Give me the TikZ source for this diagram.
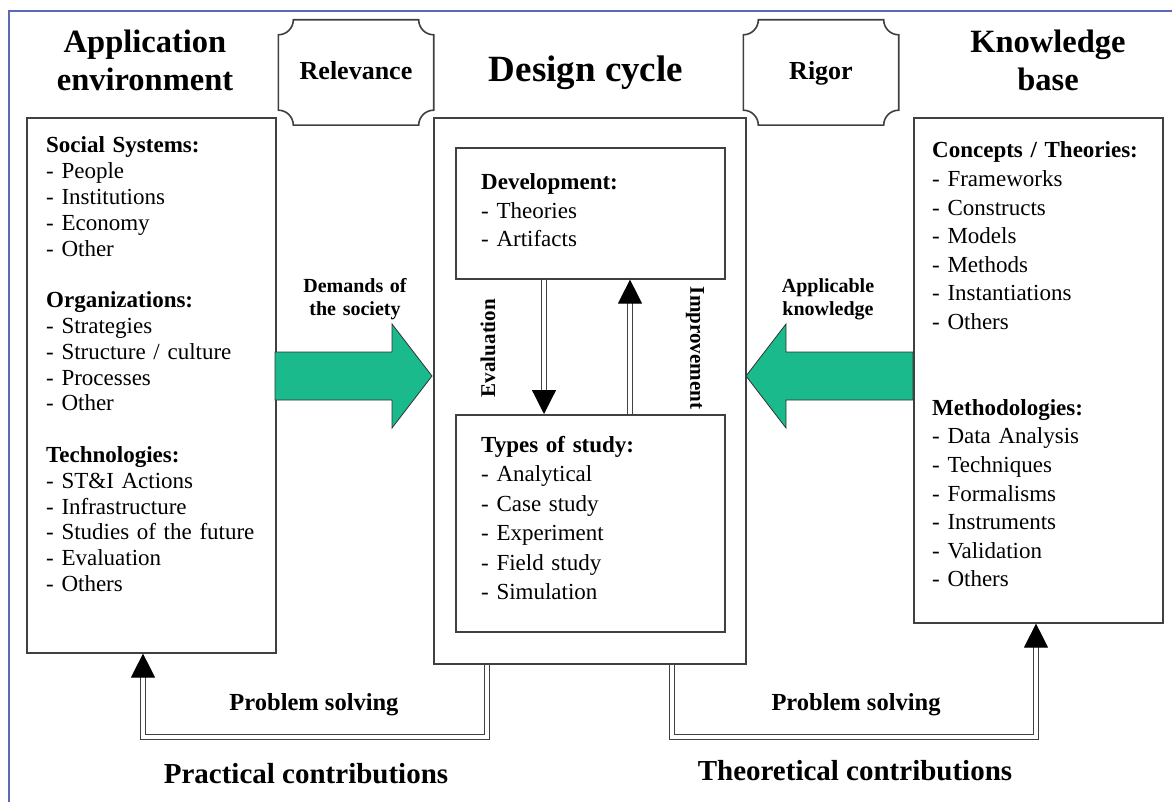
\documentclass[tikz,border=0pt]{standalone}
\usepackage{fontspec}
\setmainfont{Liberation Serif}
\usetikzlibrary{arrows.meta,calc}
\definecolor{frameblue}{RGB}{92,104,184}
\definecolor{arrowgreen}{RGB}{26,186,140}
\definecolor{linegray}{RGB}{64,64,64}
\tikzset{
  box/.style={draw=linegray, line width=1.6pt, inner sep=0pt, anchor=north west},
  listtext/.style={anchor=base west, inner sep=0pt, align=left, text width=#1},
  dbl/.style={draw=linegray, double=white, double distance=3.4pt, line width=1.2pt, line join=miter},
  tipend/.style={-{Triangle[length=24pt,width=24pt,color=black]}},
  body/.style={font=\fontsize{23}{#1}\selectfont},
  ttl/.style={font=\bfseries\fontsize{32.5}{38}\selectfont, align=center, text width=270pt, anchor=base, inner sep=0pt},
  greenarrow/.style={fill=arrowgreen, draw=black!80, line width=0.8pt, line join=miter},
  plaquebox/.style={minimum width=155pt, minimum height=105pt, inner sep=0pt},
  lbl/.style={font=\bfseries\fontsize{20}{24}\selectfont, inner sep=0pt},
}
\newcommand\drawplaque[1]{%
  \draw[draw=linegray, line width=1.6pt]
    ($(#1.north west)+(15,0)$) -- ($(#1.north east)+(-15,0)$)
    arc[start angle=180, end angle=90, radius=15]
    -- ($(#1.south east)+(0,-15)$)
    arc[start angle=270, end angle=180, radius=15]
    -- ($(#1.south west)+(15,0)$)
    arc[start angle=0, end angle=-90, radius=15]
    -- ($(#1.north west)+(0,15)$)
    arc[start angle=90, end angle=0, radius=15]
    -- cycle;}
\begin{document}
\begin{tikzpicture}[x=1pt,y=-1pt]
\useasboundingbox (0,0) rectangle (1172,802);
\fill[white] (0,0) rectangle (1172,802);
% outer frame
\draw[frameblue, line width=1.5pt] (9,802) -- (9,11) -- (1172,11);

% titles
\node[ttl] (apptitle) at (145,53) {Application\\environment};
\node[ttl] (kbtitle) at (1048,53) {Knowledge\\base};
\node[font=\bfseries\fontsize{37}{42}\selectfont, anchor=base, inner sep=0pt] (dctitle) at (586,82) {Design cycle};

% plaques
\node[plaquebox] (rel) at (356,72.5) {};
\drawplaque{rel}
\node[font=\bfseries\fontsize{26}{30}\selectfont, anchor=base, inner sep=0pt] (reltext) at (356,80) {Relevance};
\node[plaquebox] (rig) at (821,72.5) {};
\drawplaque{rig}
\node[font=\bfseries\fontsize{26}{30}\selectfont, anchor=base, inner sep=0pt] (rigtext) at (821,80) {Rigor};

% boxes
\node[box, minimum width=249pt, minimum height=535pt] (lbox) at (26,117) {};
\node[box, minimum width=312pt, minimum height=546pt] (cbox) at (433,117) {};
\node[box, minimum width=269pt, minimum height=131pt] (dev) at (455,147) {};
\node[box, minimum width=269pt, minimum height=217pt] (types) at (455,414) {};
\node[box, minimum width=249pt, minimum height=505pt] (rbox) at (913,117) {};

% box texts
\node[listtext=225pt, body=25.8pt] (ltext) at (46,153) {\textbf{Social Systems:}\\- People\\- Institutions\\- Economy\\- Other\\[25.8pt]\textbf{Organizations:}\\- Strategies\\- Structure / culture\\- Processes\\- Other\\[25.8pt]\textbf{Technologies:}\\- ST\&I Actions\\- Infrastructure\\- Studies of the future\\- Evaluation\\- Others};
\node[listtext=225pt, body=28.6pt] (rtext) at (932,158) {\textbf{Concepts / Theories:}\\- Frameworks\\- Constructs\\- Models\\- Methods\\- Instantiations\\- Others\\[57.2pt]\textbf{Methodologies:}\\- Data Analysis\\- Techniques\\- Formalisms\\- Instruments\\- Validation\\- Others};
\node[listtext=230pt, body=28.5pt] (devtext) at (481,190) {\textbf{Development:}\\- Theories\\- Artifacts};
\node[listtext=230pt, body=29.5pt] (typetext) at (481,452) {\textbf{Types of study:}\\- Analytical\\- Case study\\- Experiment\\- Field study\\- Simulation};

% green arrows
\coordinate (gl) at (275,376);
\draw[greenarrow] ($(gl)+(0,-24)$) -- ++(117,0) -- ++(0,-28) -- ($(gl)+(157,0)$) -- ($(gl)+(117,52)$) -- ++(0,-28) -- ($(gl)+(0,24)$) -- cycle;
\coordinate (gr) at (913,376);
\draw[greenarrow] ($(gr)+(0,-24)$) -- ++(-127,0) -- ++(0,-28) -- ($(gr)+(-167,0)$) -- ($(gr)+(-127,52)$) -- ++(0,-28) -- ($(gr)+(0,24)$) -- cycle;
\node[lbl, align=center, text width=130pt, anchor=base] (demands) at (355,292) {Demands of\\the society};
\node[lbl, align=center, text width=130pt, anchor=base] (applic) at (828,292) {Applicable\\knowledge};

% evaluation / improvement
\coordinate (evx) at (544,0);
\coordinate (imx) at (630,0);
\draw[dbl, tipend] (dev.south -| evx) -- (types.north -| evx);
\draw[dbl, tipend] (types.north -| imx) -- (dev.south -| imx);
\node[lbl, font=\bfseries\fontsize{21}{24}\selectfont, rotate=90] (evallbl) at (488,348) {Evaluation};
\node[lbl, font=\bfseries\fontsize{21}{24}\selectfont, rotate=-90] (improvlbl) at (695,348) {Improvement};

% problem solving connectors
\coordinate (pl1) at (487,737);
\coordinate (pl2) at (143,737);
\draw[dbl, tipend] (cbox.south -| pl1) -- (pl1) -- (pl2) -- (lbox.south -| pl2);
\coordinate (pr1) at (672,737);
\coordinate (pr2) at (1036,737);
\draw[dbl, tipend] (cbox.south -| pr1) -- (pr1) -- (pr2) -- (rbox.south -| pr2);

\node[font=\bfseries\fontsize{24.5}{28}\selectfont, anchor=base, inner sep=0pt] (psl) at (314,710) {Problem solving};
\node[font=\bfseries\fontsize{24.5}{28}\selectfont, anchor=base, inner sep=0pt] (psr) at (856,710) {Problem solving};
\node[font=\bfseries\fontsize{29}{33}\selectfont, anchor=base, inner sep=0pt] (pract) at (306,783) {Practical contributions};
\node[font=\bfseries\fontsize{29}{33}\selectfont, anchor=base, inner sep=0pt] (theor) at (855,780) {Theoretical contributions};
\end{tikzpicture}
\end{document}
